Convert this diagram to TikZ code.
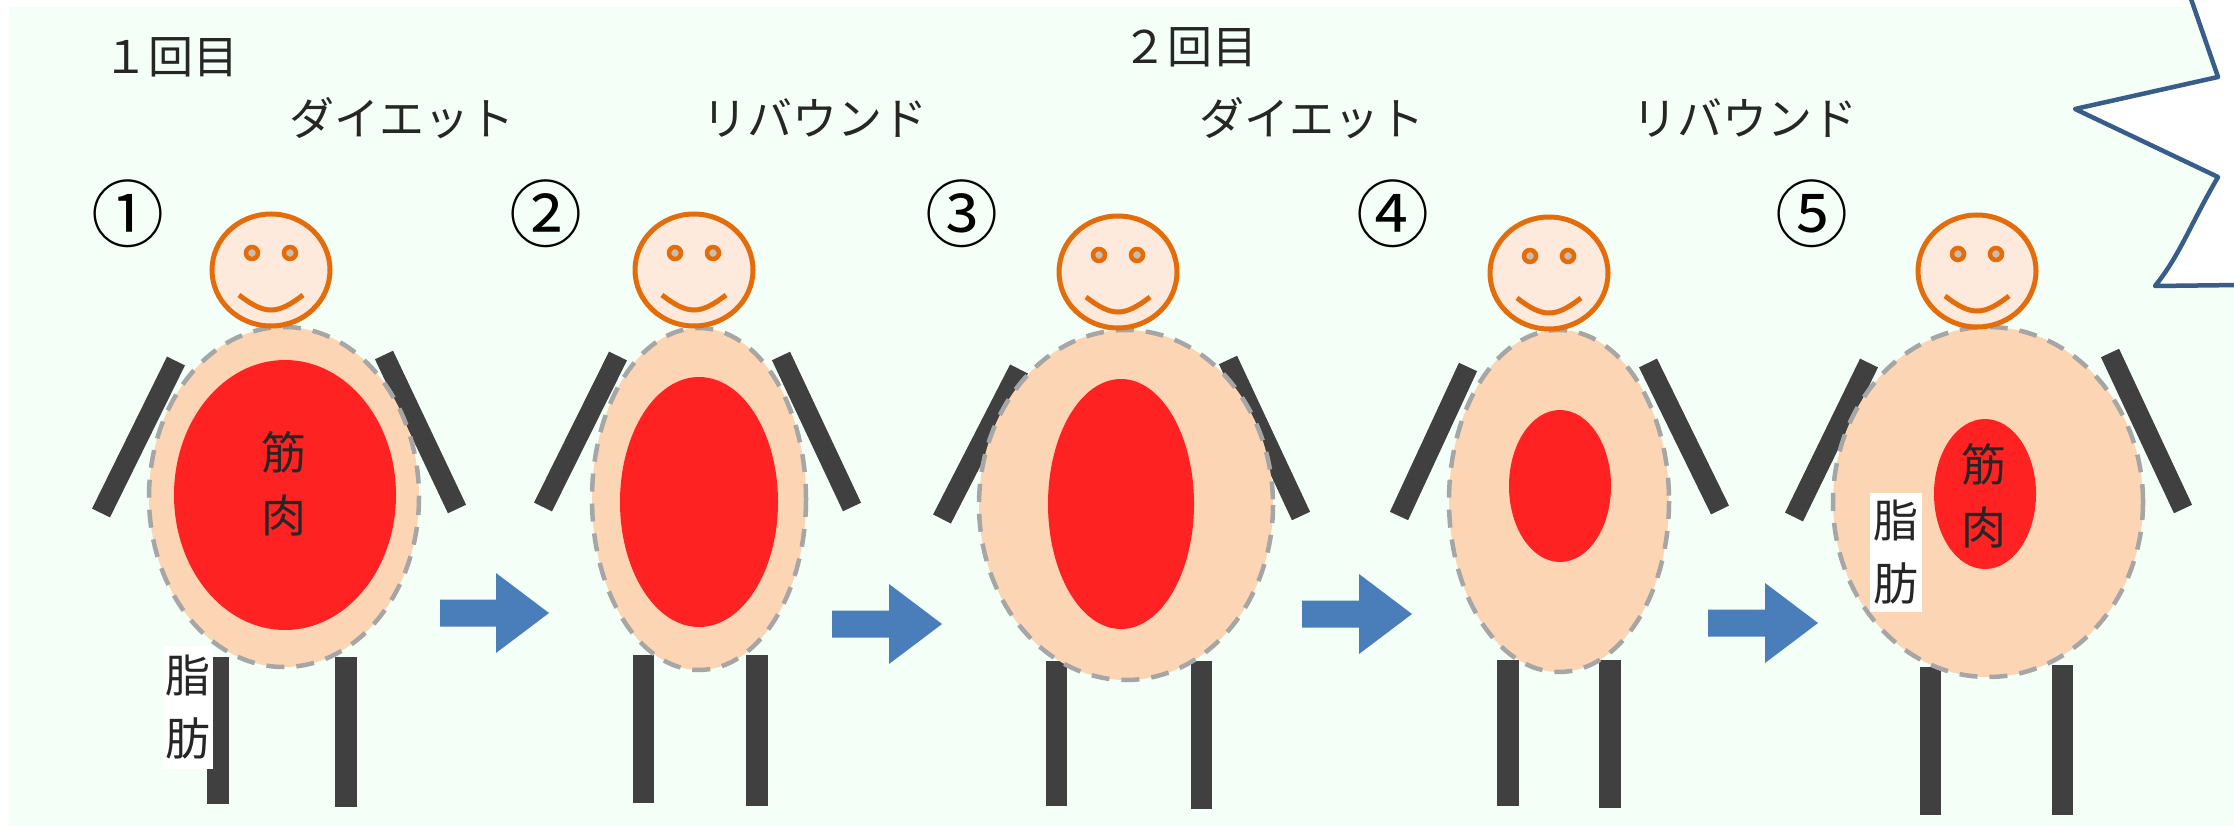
\documentclass[tikz,border=0pt]{standalone}
\usepackage{fontspec}
\setmainfont{Noto Sans CJK JP}
\definecolor{panelbg}{HTML}{F3FFF7}
\definecolor{skin}{HTML}{FDEADD}
\definecolor{orangeline}{HTML}{E46C0A}
\definecolor{eyecore}{HTML}{C8BDB0}
\definecolor{fat}{HTML}{FCD5B5}
\definecolor{fatline}{HTML}{A6A6A6}
\definecolor{muscle}{HTML}{FF2222}
\definecolor{limbgrey}{HTML}{404040}
\definecolor{flowblue}{HTML}{4A7EBB}
\definecolor{burstline}{HTML}{385D8A}
\definecolor{inktext}{HTML}{262626}
\tikzset{
  limbbar/.style={draw=none,fill=limbgrey},
  armbar/.style={limbgrey,line width=20pt},
  torsoshape/.style={fill=fat,draw=fatline,line width=4.5pt,dash pattern=on 18pt off 12pt},
  muscleshape/.style={fill=muscle,draw=none},
  headshape/.style={fill=skin,draw=orangeline,line width=5pt},
  eyeshape/.style={fill=eyecore,draw=orangeline,line width=4.5pt},
  smileline/.style={draw=orangeline,line width=5pt},
  flowarrow/.style={fill=flowblue,draw=none},
  headline/.style={text=inktext,inner sep=0pt,font=\fontsize{45}{45}\selectfont},
  stepnum/.style={text=black,inner sep=0pt,font=\fontsize{73}{73}\selectfont},
  bodyword/.style={text=inktext,inner sep=0pt,align=center,font=\fontsize{45}{63}\selectfont},
}
% face centred on (#1,#2)
\newcommand{\facehead}[2]{%
  \draw[headshape] (#1,#2) ellipse [x radius=59,y radius=56];
  \draw[eyeshape] (#1-19,#2-17) circle [radius=6];
  \draw[eyeshape] (#1+19,#2-17) circle [radius=6];
  \draw[smileline] (#1-32,#2+25) .. controls (#1-6,#2+45) and (#1+6,#2+45) .. (#1+32,#2+25);
}
% upright leg: left, right, top, bottom
\newcommand{\legbar}[4]{\fill[limbbar] (#1,#3) rectangle (#2,#4);}
% block arrow: left end, tip, vertical centre
\newcommand{\blockarrow}[3]{%
  \fill[flowarrow] (#1,#3-13.5) -- (#2-53,#3-13.5) -- (#2-53,#3-40) -- (#2,#3)
    -- (#2-53,#3+40) -- (#2-53,#3+13.5) -- (#1,#3+13.5) -- cycle;
}
\begin{document}
\begin{tikzpicture}[x=1pt,y=-1pt]
\useasboundingbox (0,0) rectangle (2234,826);
\fill[white] (0,0) rectangle (2234,826);
\fill[panelbg] (10,7) rectangle (2234,826);

% speech burst at the right edge
\fill[white] (2190,-4) -- (2218,77) -- (2075,109) -- (2218,177) .. controls (2190,225) and (2180,255) .. (2155,286) -- (2240,285) -- (2240,-4) -- cycle;
\draw[burstline,line width=4.5pt,line join=round] (2190,-4) -- (2218,77) -- (2075,109) -- (2218,177) .. controls (2190,225) and (2180,255) .. (2155,286) -- (2240,285);

% titles
\node[headline] (round1) at (171,57) {１回目};
\node[headline] (round2) at (1190,47) {２回目};
\node[headline] (diet1) at (402,118) {ダイエット};
\node[headline] (rebound1) at (815,118) {リバウンド};
\node[headline] (diet2) at (1312,118) {ダイエット};
\node[headline] (rebound2) at (1745,118) {リバウンド};

% step numbers
\node[stepnum] (n1) at (128,214) {①};
\node[stepnum] (n2) at (546,214) {②};
\node[stepnum] (n3) at (962,214) {③};
\node[stepnum] (n4) at (1393,214) {④};
\node[stepnum] (n5) at (1812,214) {⑤};

% figure 1
\draw[armbar] (176,361) -- (101,513);
\draw[armbar] (384,355) -- (457,509);
\legbar{207}{229}{657}{804}
\legbar{335}{357}{657}{807}
\draw[torsoshape] (284,497) ellipse [x radius=135,y radius=170];
\fill[muscleshape] (285,495) ellipse [x radius=111,y radius=135];
\facehead{271}{270}

% figure 2
\draw[armbar] (618,356) -- (543,507);
\draw[armbar] (781,356) -- (852,507);
\legbar{633}{654}{655}{803}
\legbar{746}{768}{655}{806}
\draw[torsoshape] (699,499) ellipse [x radius=107,y radius=171];
\fill[muscleshape] (699,502) ellipse [x radius=79,y radius=125];
\facehead{694}{270}

% figure 3
\draw[armbar] (1019,369) -- (942,519);
\draw[armbar] (1228,360) -- (1301,516);
\legbar{1046}{1067}{661}{806}
\legbar{1191}{1212}{661}{809}
\draw[torsoshape] (1126,505) ellipse [x radius=147,y radius=175];
\fill[muscleshape] (1121,504) ellipse [x radius=73,y radius=125];
\facehead{1118}{272}

% figure 4
\draw[armbar] (1468,367) -- (1399,516);
\draw[armbar] (1648,363) -- (1720,510);
\legbar{1497}{1519}{660}{806}
\legbar{1599}{1621}{660}{808}
\draw[torsoshape] (1559,501) ellipse [x radius=110,y radius=171];
\fill[muscleshape] (1560,486) ellipse [x radius=51,y radius=76];
\facehead{1549}{273}

% figure 5
\draw[armbar] (1869,363) -- (1794,517);
\draw[armbar] (2110,353) -- (2183,509);
\legbar{1920}{1941}{667}{815}
\legbar{2052}{2073}{665}{815}
\draw[torsoshape] (1988,502) ellipse [x radius=155,y radius=175];
\fill[muscleshape] (1985,494) ellipse [x radius=51,y radius=75];
\facehead{1977}{271}

% arrows between the steps
\blockarrow{440}{549}{613}
\blockarrow{832}{942}{624}
\blockarrow{1302}{1412}{614}
\blockarrow{1708}{1818}{623}

% body labels
\node[fill=white,minimum width=50pt,minimum height=123pt,inner sep=0pt] (fatbox1) at (188,707.5) {};
\node[bodyword] (fat1) at (fatbox1) {脂\\肪};
\node[bodyword] (muscle1) at (284,484) {筋\\肉};
\node[fill=white,minimum width=52pt,minimum height=119pt,inner sep=0pt] (fatbox5) at (1896,552.5) {};
\node[bodyword] (fat5) at (fatbox5) {脂\\肪};
\node[bodyword] (muscle5) at (1984,496) {筋\\肉};
\end{tikzpicture}
\end{document}
